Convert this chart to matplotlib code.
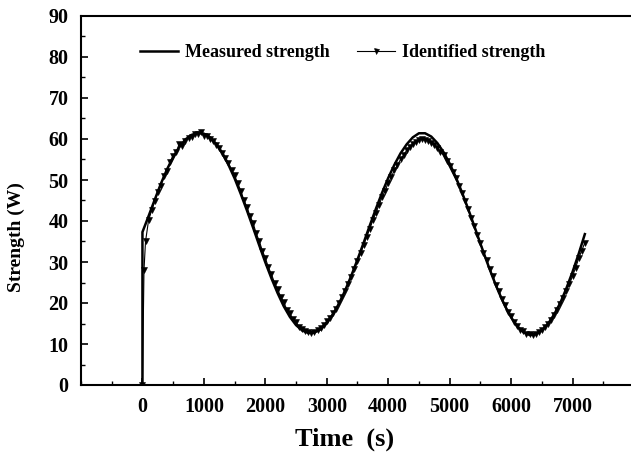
import numpy as np
import matplotlib
matplotlib.use("Agg")
import matplotlib.pyplot as plt
from matplotlib.ticker import MultipleLocator, FixedLocator

# ---------------- data ----------------
measured_time = [0] + list(range(0, 7201, 100))
measured_strength = [
    0.0,
    37.3, 41.2, 45.2, 49.1, 52.6, 55.6, 58.0, 59.9, 61.0, 61.5,
    61.3, 60.4, 58.8, 56.6, 53.7, 50.4, 46.6, 42.6, 38.4, 34.1,
    29.9, 26.0, 22.4, 19.2, 16.6, 14.6, 13.3, 12.7, 12.8, 13.6,
    15.1, 17.2, 19.9, 23.1, 26.7, 30.6, 34.7, 38.9, 43.0, 46.9,
    50.5, 53.7, 56.5, 58.7, 60.4, 61.4, 61.4, 60.6, 59.0, 56.8,
    54.0, 50.7, 47.0, 43.0, 38.8, 34.5, 30.3, 26.3, 22.6, 19.3,
    16.5, 14.3, 12.9, 12.2, 12.4, 13.3, 14.9, 17.2, 20.0, 23.6,
    27.6, 32.0, 36.8,
]

identified_time = [0, 25, 50] + list(range(100, 7201, 50))
identified_strength = [
    0.0, 28.0, 35.0,
    40.2, 42.6, 44.8, 47.1, 48.6, 51.0, 52.2, 54.3, 55.9, 56.8,
    58.9, 58.3, 59.6, 60.3, 60.6, 61.2, 61.3, 61.6, 60.8, 60.7,
    59.9, 59.4, 58.6, 57.8, 56.7, 55.4, 54.2, 52.4, 51.1, 49.2,
    47.4, 45.1, 43.5, 41.2, 39.6, 37.0, 35.2, 32.8, 31.0, 28.7,
    27.0, 24.9, 23.4, 21.5, 20.2, 18.4, 17.5, 16.0, 15.3, 14.2,
    13.6, 13.1, 12.9, 12.8, 13.0, 13.3, 14.0, 14.6, 15.6, 16.3,
    17.6, 18.6, 20.1, 21.4, 23.0, 24.6, 26.4, 28.3, 30.2, 32.1,
    34.1, 36.2, 38.1, 40.2, 42.0, 43.9, 45.8, 47.4, 49.3, 50.7,
    52.4, 53.6, 55.0, 56.1, 57.2, 58.0, 58.9, 59.3, 59.8, 59.9,
    59.7, 59.6, 59.1, 58.6, 57.9, 56.9, 56.1, 54.6, 53.4, 51.9,
    50.4, 48.6, 46.9, 44.8, 42.9, 40.7, 38.8, 36.5, 34.7, 32.3,
    30.5, 28.2, 26.6, 24.4, 22.9, 21.0, 19.6, 17.8, 16.8, 15.3,
    14.5, 13.5, 13.1, 12.5, 12.4, 12.2, 12.5, 12.9, 13.4, 14.1,
    14.9, 15.8, 17.0, 18.2, 19.7, 21.1, 23.0, 24.6, 26.6, 28.6,
    30.9, 32.8, 34.7,
]

x_major_ticks = [0, 1000, 2000, 3000, 4000, 5000, 6000, 7000]
y_major_ticks = [0, 10, 20, 30, 40, 50, 60, 70, 80, 90]

# ---------------- plot ----------------
plt.rcParams['font.family'] = ['Liberation Serif', 'DejaVu Serif']
plt.rcParams['font.weight'] = 'bold'

fig = plt.figure(figsize=(6.31, 4.55), dpi=100)
ax = fig.add_axes([81/631, 70/455, 553/631, 369/455])

ax.plot(measured_time, measured_strength, color='black', lw=1.8,
        label='Measured strength', zorder=3)
ax.plot(identified_time, identified_strength, color='black', lw=0.8,
        marker='v', markersize=4, markeredgewidth=0.4,
        label='Identified strength', zorder=4)

ax.set_xlim(-1000, 8000)
ax.set_ylim(0, 90)
ax.xaxis.set_major_locator(FixedLocator(x_major_ticks))
ax.xaxis.set_minor_locator(MultipleLocator(500))
ax.yaxis.set_major_locator(FixedLocator(y_major_ticks))
ax.yaxis.set_minor_locator(MultipleLocator(5))

ax.tick_params(axis='both', which='major', direction='in', length=5,
               width=1.2, labelsize=14.5)
ax.tick_params(axis='both', which='minor', direction='in', length=3,
               width=1.0)
ax.tick_params(axis='x', which='major', pad=9)
ax.tick_params(axis='y', which='major', pad=9)
for lab in ax.get_xticklabels() + ax.get_yticklabels():
    lab.set_fontweight('bold')

ax.spines['right'].set_visible(False)
for s in ['left', 'bottom', 'top']:
    ax.spines[s].set_linewidth(1.5)

ax.set_xlabel('Time  (s)', fontsize=19, fontweight='bold')
ax.xaxis.set_label_coords(0.476, -0.147)
ax.xaxis.label.set_va('center')
ax.set_ylabel('Strength (W)', fontsize=14, fontweight='bold')
ax.yaxis.set_label_coords(-0.117, 0.402)
ax.yaxis.label.set_va('center')

leg = ax.legend(loc='upper left', bbox_to_anchor=(0.077, 0.967), ncol=2,
                frameon=False, prop={'weight': 'bold', 'size': 13},
                handlelength=2.1, handletextpad=0.4, columnspacing=1.5,
                markerscale=0.9)

fig.savefig('out.png', dpi=100)
